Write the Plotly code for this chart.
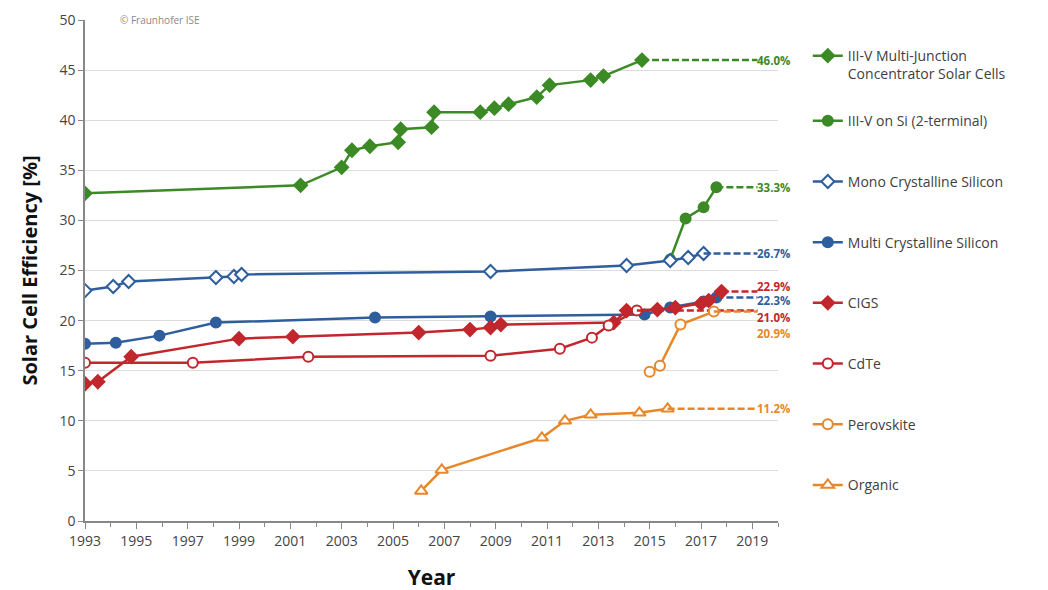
import plotly.graph_objects as go

# Record cell efficiencies [%] by year
mj_years = [1993.0, 2001.4, 2003.0, 2003.4, 2004.1, 2005.2, 2005.3, 2006.5, 2006.6,
            2008.4, 2008.95, 2009.5, 2010.6, 2011.1, 2012.7, 2013.2, 2014.7]
mj_eff = [32.7, 33.5, 35.3, 37.0, 37.4, 37.8, 39.1, 39.3, 40.8,
          40.8, 41.2, 41.6, 42.3, 43.5, 44.0, 44.4, 46.0]

vsi_years = [2015.8, 2016.4, 2017.1, 2017.6]
vsi_eff = [26.1, 30.2, 31.3, 33.3]

mono_years = [1993.0, 1994.1, 1994.7, 1998.1, 1998.8, 1999.1, 2008.8, 2014.1, 2015.8, 2016.5, 2017.1]
mono_eff = [23.0, 23.4, 23.9, 24.3, 24.4, 24.6, 24.9, 25.5, 26.0, 26.3, 26.7]

multi_years = [1993.0, 1994.2, 1995.9, 1998.1, 2004.3, 2008.8, 2014.8, 2015.8, 2017.1, 2017.6]
multi_eff = [17.7, 17.8, 18.5, 19.8, 20.3, 20.4, 20.6, 21.3, 21.9, 22.3]

cigs_years = [1993.0, 1993.5, 1994.8, 1999.0, 2001.1, 2006.0, 2008.0, 2008.8, 2009.2,
              2013.6, 2014.1, 2015.3, 2016.0, 2017.0, 2017.3, 2017.8]
cigs_eff = [13.7, 13.9, 16.4, 18.2, 18.4, 18.8, 19.1, 19.3, 19.6,
            19.8, 21.0, 21.1, 21.3, 21.7, 22.0, 22.9]

cdte_years = [1993.0, 1997.2, 2001.7, 2008.8, 2011.5, 2012.75, 2013.4, 2014.5]
cdte_eff = [15.8, 15.8, 16.4, 16.5, 17.2, 18.3, 19.5, 21.0]

pero_years = [2015.0, 2015.4, 2016.2, 2017.5]
pero_eff = [14.9, 15.5, 19.6, 20.9]

org_years = [2006.1, 2006.9, 2010.8, 2011.7, 2012.7, 2014.6, 2015.7]
org_eff = [3.0, 5.1, 8.3, 10.0, 10.6, 10.8, 11.2]

tick_years = list(range(1993, 2020, 2))

GREEN = "#3c8a25"
BLUE = "#2f5e9e"
RED = "#c1272d"
ORANGE = "#e8872a"
FONT = "Open Sans"
END_X = 2019.2

series = [
    ("III-V Multi-Junction<br>Concentrator Solar Cells", mj_years, mj_eff, GREEN, "diamond", True, 0),
    ("III-V on Si (2-terminal)", vsi_years, vsi_eff, GREEN, "circle", True, 0),
    ("Mono Crystalline Silicon", mono_years, mono_eff, BLUE, "diamond", False, 0),
    ("Multi Crystalline Silicon", multi_years, multi_eff, BLUE, "circle", True, -3),
    ("CIGS", cigs_years, cigs_eff, RED, "diamond", True, 5),
    ("CdTe", cdte_years, cdte_eff, RED, "circle", False, -7),
    ("Perovskite", pero_years, pero_eff, ORANGE, "circle", False, -22),
    ("Organic", org_years, org_eff, ORANGE, "triangle-up", False, 0),
]

fig = go.Figure()
annotations = []

for i, (name, xs, ys, color, symbol, filled, label_shift) in enumerate(series):
    fig.add_trace(go.Scatter(
        x=xs, y=ys, name=name, mode="lines+markers",
        legendgroup=f"g{i}", legend="legend" if i == 0 else "legend2",
        line=dict(color=color, width=2.5),
        marker=dict(symbol=symbol, size=10 if symbol != "triangle-up" else 11,
                    color=color if filled else "white",
                    line=dict(color=color, width=2)),
    ))
    # dashed extension to the record label
    fig.add_trace(go.Scatter(
        x=[xs[-1], END_X], y=[ys[-1], ys[-1]], mode="lines",
        legendgroup=f"g{i}", showlegend=False, hoverinfo="skip",
        line=dict(color=color, width=2.5, dash="7px,3px"),
    ))
    annotations.append(dict(
        x=END_X, y=ys[-1], xref="x", yref="y", text=f"<b>{ys[-1]:.1f}%</b>",
        showarrow=False, xanchor="left", yanchor="middle", yshift=label_shift,
        xshift=-2, font=dict(family=FONT, size=11.5, color=color),
    ))

annotations.append(dict(
    x=0.048, y=1.0, xref="paper", yref="paper", text="© Fraunhofer ISE",
    showarrow=False, xanchor="left", yanchor="middle",
    font=dict(family=FONT, size=10, color="#8a8a8a"),
))

legend_font = dict(family=FONT, size=14, color="#404040")

fig.update_layout(
    width=1048, height=590,
    margin=dict(l=77, r=278, t=12, b=77),
    plot_bgcolor="white", paper_bgcolor="white",
    font=dict(family=FONT, size=14, color="#444444"),
    annotations=annotations,
    legend=dict(
        x=1.043, y=0.96, xanchor="left", yanchor="top", valign="top",
        font=legend_font, bgcolor="rgba(0,0,0,0)",
    ),
    legend2=dict(
        x=1.043, y=0.83, xanchor="left", yanchor="top",
        traceorder="grouped", tracegroupgap=39.5,
        font=legend_font, bgcolor="rgba(0,0,0,0)",
    ),
    xaxis=dict(
        range=[1993, 2020], tickvals=tick_years, ticks="outside", ticklen=6,
        tickcolor="#888888", showline=True, linecolor="#888888", linewidth=1.5,
        showgrid=False, zeroline=False, automargin=False,
        minor=dict(dtick=1, tick0=1993, ticks="outside", ticklen=4, tickcolor="#888888"),
        title=dict(text="<b>Year</b>", font=dict(family=FONT, size=21, color="#111111"), standoff=22),
        tickfont=dict(size=14, color="#444444"),
    ),
    yaxis=dict(
        range=[0, 50], dtick=5, ticks="outside", ticklen=5, tickcolor="#888888",
        showline=True, linecolor="#888888", linewidth=1.5,
        showgrid=True, gridcolor="#dcdcdc", gridwidth=1, zeroline=False, automargin=False,
        title=dict(text="<b>Solar Cell Efficiency [%]</b>",
                   font=dict(family=FONT, size=20, color="#111111"), standoff=16),
        tickfont=dict(size=14, color="#444444"),
    ),
)

fig.write_html("out.html")
